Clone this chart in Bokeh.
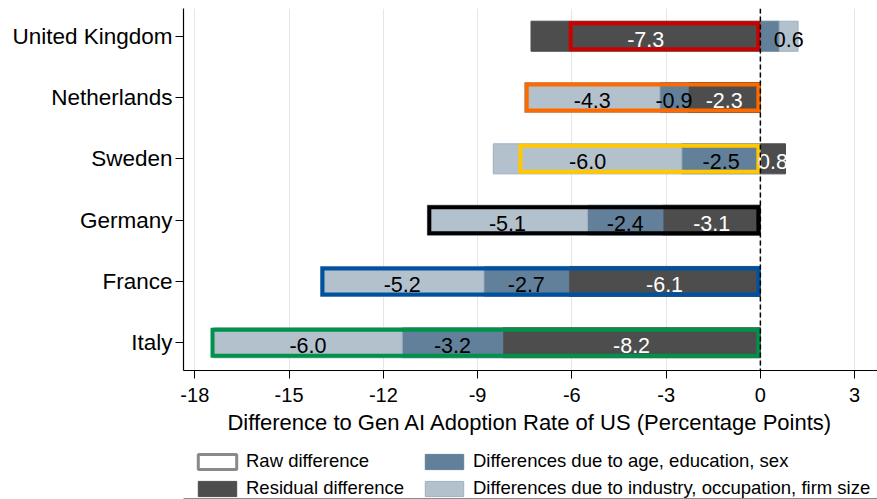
from bokeh.plotting import figure
from bokeh.layouts import column
from bokeh.models import Range1d, FixedTicker, Span, Legend, LegendItem, ColumnDataSource
from bokeh.embed import file_html
from bokeh.resources import INLINE
from bokeh.core.properties import value

# ---------------- data ----------------
countries = ["United Kingdom", "Netherlands", "Sweden", "Germany", "France", "Italy"]
residual = [-7.3, -2.3, 0.8, -3.1, -6.1, -8.2]
age_edu_sex = [0.6, -0.9, -2.5, -2.4, -2.7, -3.2]
industry_occ = [0.6, -4.3, -6.0, -5.1, -5.2, -6.0]
raw_diff = [-6.1, -7.5, -7.7, -10.6, -14.0, -17.5]
age_label_shown = [False, True, True, True, True, True]
x_ticks = [-18, -15, -12, -9, -6, -3, 0, 3]
x_tick_labels = ["-18", "-15", "-12", "-9", "-6", "-3", "0", "3"]
x_title = "Difference to Gen AI Adoption Rate of US (Percentage Points)"
legend_labels = ["Raw difference", "Residual difference",
                 "Differences due to age, education, sex",
                 "Differences due to industry, occupation, firm size"]

# ---------------- styles ----------------
FONT = "Liberation Sans"
raw_colors = ["#cc0000", "#ff6a00", "#ffc800", "#000000", "#0052a0", "#00914a"]
C_RES, C_AGE, C_IND = "#4d4d4d", "#62809a", "#b3c1cd"
L_IND = "#9fb0bd"
W = 877
H1, H2 = 443, 56
BL, BR, BT = 183, 0, 8
FH = 362
BB = H1 - BT - FH
FW = W - BL - BR
PX_PER_UNIT = 31.42
X0 = -18.36
X1 = X0 + FW / PX_PER_UNIT
Y0, Y1 = 0.548, 6.452
BAR_H = 0.49
RAW_LW = 4

n = len(countries)
ys = [n - i for i in range(n)]

p = figure(width=W, height=H1,
           x_range=Range1d(X0, X1), y_range=Range1d(Y0, Y1),
           output_backend="svg", toolbar_location=None,
           min_border_left=BL, min_border_right=BR, min_border_top=BT, min_border_bottom=BB)
p.outline_line_color = None
p.background_fill_color = "white"

# stacked components
neg = [0.0] * n
pos = [0.0] * n
labels = {"x": [], "y": [], "text": [], "color": []}
for comp, color, txtcol, shown in [(residual, C_RES, "white", [True] * n),
                                   (age_edu_sex, C_AGE, "black", age_label_shown),
                                   (industry_occ, C_IND, "black", [True] * n)]:
    lefts, rights = [], []
    for i, v in enumerate(comp):
        if v < 0:
            a = neg[i]; b = a + v; neg[i] = b
        else:
            a = pos[i]; b = a + v; pos[i] = b
        lefts.append(min(a, b)); rights.append(max(a, b))
        if shown[i]:
            labels["x"].append((a + b) / 2)
            labels["y"].append(ys[i])
            labels["text"].append(f"{v:.1f}")
            labels["color"].append(txtcol)
    lc = L_IND if color == C_IND else color
    p.hbar(y=ys, left=lefts, right=rights, height=BAR_H,
           fill_color=color, line_color=lc, line_width=1)

# raw difference outlines (drawn inside the bar extent)
px_x = FW / (X1 - X0)
px_y = FH / (Y1 - Y0)
ix = RAW_LW / 2 / px_x
iy = RAW_LW / 2 / px_y
p.hbar(y=ys, left=[v + ix for v in raw_diff], right=[-ix] * n,
       height=BAR_H - 2 * iy, fill_color=None, line_color=raw_colors,
       line_width=RAW_LW, line_join="miter")

# value labels
p.text(x="x", y="y", text="text", text_color="color", source=ColumnDataSource(labels),
       text_align="center", text_baseline="middle", text_font=value(FONT),
       text_font_size="21.5px", y_offset=3)

# zero line
p.add_layout(Span(location=0, dimension="height", line_color="black",
                  line_dash="5 3", line_width=1.5))

# axes
p.xaxis.ticker = FixedTicker(ticks=x_ticks)
p.xaxis.major_label_overrides = {t: s for t, s in zip(x_ticks, x_tick_labels)}
p.yaxis.ticker = FixedTicker(ticks=ys)
p.yaxis.major_label_overrides = {y: c for y, c in zip(ys, countries)}
p.xaxis.axis_label = x_title
for ax in (p.xaxis, p.yaxis):
    ax.minor_tick_line_color = None
    ax.major_tick_in = 0
    ax.major_tick_out = 8
    ax.axis_line_color = "black"
    ax.major_tick_line_color = "black"
    ax.axis_line_width = 1.2
    ax.major_label_text_font = FONT
    ax.major_label_text_color = "black"
    ax.axis_label_text_font = FONT
    ax.axis_label_text_font_style = "normal"
    ax.axis_label_text_color = "black"
p.xaxis.major_label_text_font_size = "20px"
p.yaxis.major_label_text_font_size = "22.5px"
p.xaxis.axis_label_text_font_size = "22px"
p.xaxis.major_label_standoff = 9
p.xaxis.axis_label_standoff = 5
p.yaxis.major_label_standoff = 3
p.ygrid.visible = False
p.xgrid.grid_line_color = "#e6e6e6"
p.xgrid.grid_line_width = 1

# ---------------- legend strip ----------------
p2 = figure(width=W, height=H2, x_range=Range1d(0, 1), y_range=Range1d(0, 1),
            output_backend="svg", toolbar_location=None,
            x_axis_type=None, y_axis_type=None, min_border=0)
p2.outline_line_color = None
p2.grid.visible = False
styles = [dict(fill_color="white", line_color="#8a8a8a", line_width=3),
          dict(fill_color=C_RES, line_color=C_RES, line_width=1),
          dict(fill_color=C_AGE, line_color=C_AGE, line_width=1),
          dict(fill_color=C_IND, line_color=L_IND, line_width=1)]
items = []
for lab, st in zip(legend_labels, styles):
    # legend proxy placed outside the visible range of the strip
    r = p2.hbar(y=[-5], left=[0], right=[1], height=0.1, **st)
    items.append(LegendItem(label=lab, renderers=[r]))
legend = Legend(items=items, orientation="vertical", ncols=2, location=(10, 0),
                glyph_width=48, glyph_height=19, label_standoff=5, label_width=169,
                label_text_font=FONT, label_text_font_size="18.5px",
                label_text_color="black", spacing=5, padding=0, margin=0,
                border_line_color=None, background_fill_alpha=0)
p2.add_layout(legend, "center")

open("out.html", "w").write(file_html(column(p, p2), INLINE))
